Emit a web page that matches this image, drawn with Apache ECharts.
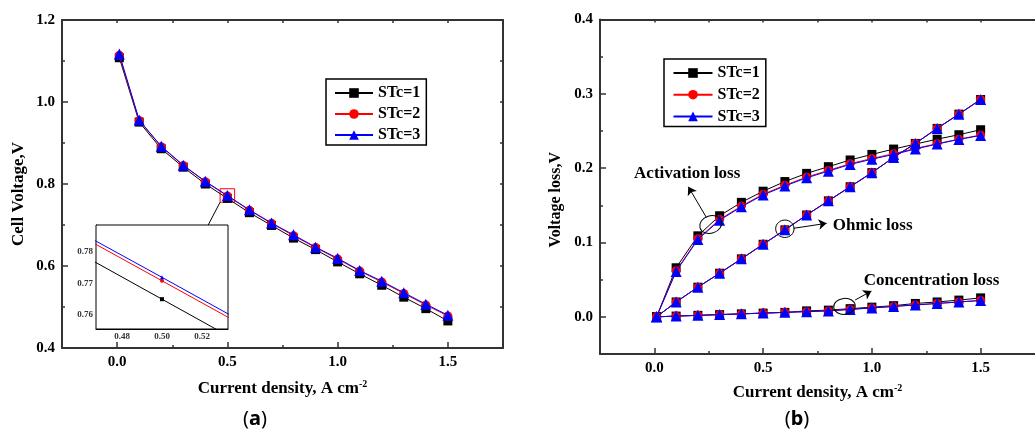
<!DOCTYPE html>
<html>
<head>
<meta charset="utf-8">
<script src="https://cdn.jsdelivr.net/npm/echarts@6/dist/echarts.min.js"></script>
<style>
  html, body { margin: 0; padding: 0; background: #fff; }
  #chart { width: 1035px; height: 433px; }
</style>
</head>
<body>
<div id="chart"></div>
<script>
// ---- data: current density (A cm^-2) shared by every curve ----
const currentDensity = [0.01, 0.1, 0.2, 0.3, 0.4, 0.5, 0.6, 0.7, 0.8, 0.9, 1.0, 1.1, 1.2, 1.3, 1.4, 1.5];

// (a) cell voltage, V
const voltageSTc1 = [1.108, 0.951, 0.886, 0.841, 0.800, 0.765, 0.730, 0.699, 0.668, 0.640, 0.610, 0.581, 0.553, 0.524, 0.496, 0.466];
const voltageSTc2 = [1.114, 0.955, 0.891, 0.845, 0.8056, 0.7708, 0.736, 0.704, 0.674, 0.645, 0.617, 0.588, 0.561, 0.533, 0.505, 0.478];
const voltageSTc3 = [1.117, 0.956, 0.892, 0.846, 0.8065, 0.7719, 0.737, 0.705, 0.676, 0.646, 0.619, 0.589, 0.563, 0.535, 0.507, 0.480];

// (b) voltage losses, V
const activationSTc1 = [0, 0.066, 0.109, 0.136, 0.154, 0.169, 0.182, 0.193, 0.202, 0.211, 0.2185, 0.2257, 0.2324, 0.239, 0.245, 0.2517];
const activationSTc2 = [0, 0.062, 0.105, 0.131, 0.149, 0.165, 0.177, 0.188, 0.197, 0.206, 0.213, 0.2195, 0.2265, 0.233, 0.239, 0.2445];
const activationSTc3 = [0, 0.061, 0.104, 0.130, 0.148, 0.164, 0.176, 0.187, 0.196, 0.205, 0.212, 0.2185, 0.2257, 0.2324, 0.2387, 0.244];
const ohmicLoss = [0, 0.020, 0.0399, 0.0587, 0.078, 0.0976, 0.117, 0.137, 0.156, 0.175, 0.194, 0.2145, 0.2333, 0.2535, 0.2727, 0.2924];
const concentrationSTc1 = [0, 0.001, 0.002, 0.003, 0.004, 0.005, 0.006, 0.008, 0.009, 0.011, 0.013, 0.015, 0.018, 0.020, 0.0225, 0.0255];
const concentrationSTc23 = [0, 0.001, 0.002, 0.003, 0.004, 0.005, 0.006, 0.007, 0.008, 0.010, 0.012, 0.014, 0.016, 0.018, 0.020, 0.022];

const seriesNames = ['STc=1', 'STc=2', 'STc=3'];

// ---- tick labels ----
const xTicks = [0, 0.5, 1.0, 1.5];
const xMinorTicks = [0.25, 0.75, 1.25];
const xTopTicks = [0, 0.25, 0.5, 0.75, 1.0, 1.25, 1.5];
const voltTicks = [0.4, 0.6, 0.8, 1.0, 1.2];
const voltMinorTicks = [0.5, 0.7, 0.9, 1.1];
const voltRightTicks = [0.5, 0.6, 0.7, 0.8, 0.9, 1.0, 1.1];
const lossTicks = [0, 0.1, 0.2, 0.3, 0.4];
const lossMinorTicks = [0.05, 0.15, 0.25, 0.35];
const insetXTicks = [0.48, 0.50, 0.52];
const insetYTicks = [0.76, 0.77, 0.78];

// zoomed window shown in the inset of (a)
const zoomX = [0.467, 0.533];
const zoomY = [0.7556, 0.7884];

const FONT = 'Liberation Serif';
const AXIS_COLOR = '#333';
const COLORS = ['#000000', '#ff0000', '#0000ff'];
const SYMBOLS = ['rect', 'circle', 'triangle'];
const SIZES = [9, 9, 11];

const pairs = (vals) => currentDensity.map((x, i) => [x, vals[i]]);

function lineSeries(k, vals, xi, yi, extra) {
  return Object.assign({
    type: 'line',
    name: seriesNames[k],
    xAxisIndex: xi,
    yAxisIndex: yi,
    data: pairs(vals),
    symbol: SYMBOLS[k],
    symbolSize: SIZES[k],
    showAllSymbol: true,
    lineStyle: { color: COLORS[k], width: 1 },
    itemStyle: { color: COLORS[k] },
    emphasis: { disabled: true },
    z: 2 + k
  }, extra || {});
}

const labelStyle = { fontFamily: FONT, fontWeight: 'bold', fontSize: 15, color: '#000' };
const titleRich = {
  t: { fontFamily: FONT, fontWeight: 'bold', fontSize: 17, color: '#000', lineHeight: 20 },
  s: { fontFamily: FONT, fontWeight: 'bold', fontSize: 10, color: '#000', lineHeight: 12, verticalAlign: 'top' }
};

function majorAxis(o) {
  return {
    type: 'value', gridIndex: o.grid, position: o.position, min: o.min, max: o.max,
    splitLine: { show: false },
    axisLine: { show: true, onZero: false, lineStyle: { color: AXIS_COLOR, width: 2 } },
    axisTick: { show: true, inside: true, length: 6, customValues: o.ticks, lineStyle: { color: AXIS_COLOR, width: 1.5 } },
    axisLabel: Object.assign({ show: true, customValues: o.ticks, margin: 7, formatter: (v) => v.toFixed(1) }, labelStyle),
    name: o.name, nameLocation: 'middle', nameGap: o.nameGap, nameTextStyle: o.nameTextStyle
  };
}
function tickAxis(o) {
  return {
    type: 'value', gridIndex: o.grid, position: o.position, min: o.min, max: o.max,
    splitLine: { show: false },
    axisLine: { show: !!o.line, onZero: false, lineStyle: { color: AXIS_COLOR, width: 2 } },
    axisTick: { show: true, inside: true, length: 3, customValues: o.ticks, lineStyle: { color: AXIS_COLOR, width: 1.5 } },
    axisLabel: { show: false }
  };
}
function insetAxis(o) {
  return {
    type: 'value', gridIndex: 1, position: o.position, min: o.min, max: o.max,
    splitLine: { show: false },
    axisLine: { show: true, onZero: false, lineStyle: { color: '#000', width: 1 } },
    axisTick: { show: true, inside: true, length: 3, customValues: o.ticks, lineStyle: { color: '#000', width: 1 } },
    axisLabel: { show: true, customValues: o.ticks, margin: 3, formatter: (v) => v.toFixed(2),
      fontFamily: FONT, fontWeight: 'bold', fontSize: 9, color: '#333' }
  };
}

const xName = '{t|Current density, A cm}{s|-2}';

const option = {
  animation: false,
  backgroundColor: '#fff',
  grid: [
    { left: 62, top: 20, width: 441, height: 328, containLabel: false },
    { left: 96, top: 225, width: 132, height: 104, show: true, backgroundColor: '#fff', borderColor: '#000', borderWidth: 1, z: 3 },
    { left: 600, top: 19.5, width: 443.5, height: 334.5, containLabel: false }
  ],
  xAxis: [
    majorAxis({ grid: 0, position: 'bottom', min: -0.25, max: 1.75, ticks: xTicks, name: xName, nameGap: 31, nameTextStyle: { rich: titleRich } }),
    tickAxis({ grid: 0, position: 'bottom', min: -0.25, max: 1.75, ticks: xMinorTicks }),
    tickAxis({ grid: 0, position: 'top', min: -0.25, max: 1.75, ticks: xTopTicks, line: true }),
    insetAxis({ position: 'bottom', min: zoomX[0], max: zoomX[1], ticks: insetXTicks }),
    majorAxis({ grid: 2, position: 'bottom', min: -0.25, max: 1.75, ticks: xTicks, name: xName, nameGap: 29, nameTextStyle: { rich: titleRich } }),
    tickAxis({ grid: 2, position: 'bottom', min: -0.25, max: 1.75, ticks: xMinorTicks }),
    tickAxis({ grid: 2, position: 'top', min: -0.25, max: 1.75, ticks: xTopTicks, line: true })
  ],
  yAxis: [
    majorAxis({ grid: 0, position: 'left', min: 0.4, max: 1.2, ticks: voltTicks, name: 'Cell Voltage,V', nameGap: 35,
      nameTextStyle: { fontFamily: FONT, fontWeight: 'bold', fontSize: 17, color: '#000', padding: [0, 20, 0, 0] } }),
    tickAxis({ grid: 0, position: 'left', min: 0.4, max: 1.2, ticks: voltMinorTicks }),
    tickAxis({ grid: 0, position: 'right', min: 0.4, max: 1.2, ticks: voltRightTicks, line: true }),
    insetAxis({ position: 'left', min: zoomY[0], max: zoomY[1], ticks: insetYTicks }),
    majorAxis({ grid: 2, position: 'left', min: -0.05, max: 0.4, ticks: lossTicks, name: 'Voltage loss,V', nameGap: 36,
      nameTextStyle: { fontFamily: FONT, fontWeight: 'bold', fontSize: 16, color: '#000', padding: [0, 26, 0, 0] } }),
    tickAxis({ grid: 2, position: 'left', min: -0.05, max: 0.4, ticks: lossMinorTicks })
  ],
  legend: [
    {
      data: seriesNames, orient: 'vertical', left: 326, top: 79,
      itemWidth: 38, itemHeight: 12, itemGap: 3,
      padding: [5, 6, 1, 8], borderColor: '#000', borderWidth: 1.5, backgroundColor: '#fff',
      textStyle: { fontFamily: FONT, fontWeight: 'bold', fontSize: 16, color: '#000', lineHeight: 18 },
      selectedMode: false
    },
    {
      data: seriesNames, orient: 'vertical', left: 664, top: 59,
      itemWidth: 39, itemHeight: 12, itemGap: 3.7,
      padding: [5, 6, 1, 8.5], borderColor: '#000', borderWidth: 1.5, backgroundColor: '#fff',
      textStyle: { fontFamily: FONT, fontWeight: 'bold', fontSize: 16, color: '#000', lineHeight: 18 },
      selectedMode: false
    }
  ],
  series: [
    // (a) main curves; the STc=1 curve also carries the zoom box and its connector
    lineSeries(0, voltageSTc1, 0, 0, {
      markArea: {
        silent: true,
        itemStyle: { color: 'rgba(0,0,0,0)', borderColor: '#ff0000', borderWidth: 1 },
        label: { show: false },
        data: [[{ coord: [zoomX[0], zoomY[0]] }, { coord: [zoomX[1], zoomY[1]] }]]
      },
      markLine: {
        silent: true, symbol: ['none', 'none'], label: { show: false },
        lineStyle: { color: '#000', width: 1, type: 'solid' },
        data: [[{ coord: [zoomX[0], zoomY[0]] }, { coord: [0.413, 0.700] }]]
      }
    }),
    lineSeries(1, voltageSTc2, 0, 0),
    lineSeries(2, voltageSTc3, 0, 0),
    // (a) inset, same curves seen through the zoom window
    lineSeries(0, voltageSTc1, 3, 3, { symbolSize: 4, z: 5 }),
    lineSeries(1, voltageSTc2, 3, 3, { symbolSize: 4, z: 6 }),
    lineSeries(2, voltageSTc3, 3, 3, { symbolSize: 4, z: 7 }),
    // (b) activation loss
    lineSeries(0, activationSTc1, 4, 4),
    lineSeries(1, activationSTc2, 4, 4),
    lineSeries(2, activationSTc3, 4, 4),
    // (b) ohmic loss
    lineSeries(0, ohmicLoss, 4, 4),
    lineSeries(1, ohmicLoss, 4, 4),
    lineSeries(2, ohmicLoss, 4, 4, {
      markLine: {
        silent: true, symbol: ['none', 'arrow'], symbolSize: 8, label: { show: false },
        lineStyle: { color: '#000', width: 1, type: 'solid' },
        data: [
          [{ coord: [0.2386, 0.134] }, { coord: [0.156, 0.175] }],
          [{ coord: [0.640, 0.1191] }, { coord: [0.792, 0.1258] }],
          [{ coord: [0.9229, 0.0226] }, { coord: [0.998, 0.0347] }]
        ]
      }
    }),
    // (b) concentration loss
    lineSeries(0, concentrationSTc1, 4, 4),
    lineSeries(1, concentrationSTc23, 4, 4),
    lineSeries(2, concentrationSTc23, 4, 4)
  ]
};

const chart = echarts.init(document.getElementById('chart'), null, { renderer: 'canvas' });
chart.setOption(option);

// annotations of (b), anchored in data space
const toPx = (p) => chart.convertToPixel({ xAxisIndex: 4, yAxisIndex: 4 }, p);
const annoFont = 'bold 17px "' + FONT + '"';
const ellipses = [
  { at: [0.259, 0.1242], rx: 11.2, ry: 8.7, rot: 0.3 },
  { at: [0.600, 0.1185], rx: 9.2, ry: 8.7, rot: 0 },
  { at: [0.874, 0.0141], rx: 10.8, ry: 8, rot: 0.1 }
];
const notes = [
  { text: 'Activation loss', at: [-0.0933, 0.1931] },
  { text: 'Ohmic loss', at: [0.820, 0.1222] },
  { text: 'Concentration loss', at: [0.963, 0.0486] }
];
const graphics = [];
ellipses.forEach((e) => {
  const p = toPx(e.at);
  graphics.push({
    type: 'ellipse', x: p[0], y: p[1], rotation: e.rot, z: 100, silent: true,
    shape: { cx: 0, cy: 0, rx: e.rx, ry: e.ry },
    style: { fill: 'none', stroke: '#000', lineWidth: 1 }
  });
});
notes.forEach((n) => {
  const p = toPx(n.at);
  graphics.push({
    type: 'text', x: p[0], y: p[1], z: 100, silent: true,
    style: { text: n.text, font: annoFont, fill: '#000', align: 'left', verticalAlign: 'middle', textVerticalAlign: 'middle' }
  });
});
// panel captions
const capRich = {
  p: { fontFamily: 'Noto Sans', fontSize: 20, color: '#000' },
  b: { fontFamily: 'Noto Sans', fontWeight: 'bold', fontSize: 20, color: '#000' }
};
[['a', 255], ['b', 797]].forEach(([letter, cx]) => {
  graphics.push({
    type: 'text', x: cx, y: 419, z: 100, silent: true,
    style: { text: '{p|(}{b|' + letter + '}{p|)}', rich: capRich, align: 'center', verticalAlign: 'middle',
      textAlign: 'center', textVerticalAlign: 'middle' }
  });
});
chart.setOption({ graphic: graphics });
</script>
</body>
</html>
